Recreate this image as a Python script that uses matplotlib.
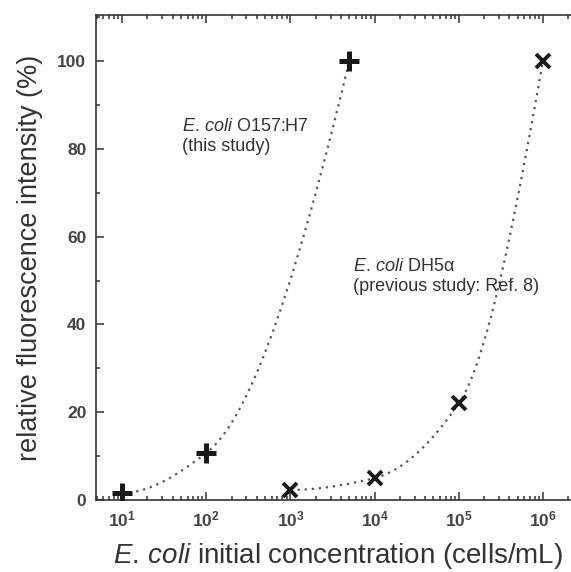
import numpy as np
import matplotlib
matplotlib.use("Agg")
import matplotlib.pyplot as plt
from matplotlib.ticker import LogLocator, MultipleLocator, NullFormatter

plt.rcParams['font.family'] = ['Liberation Sans', 'DejaVu Sans']
plt.rcParams['mathtext.fontset'] = 'custom'
plt.rcParams['mathtext.rm'] = 'Liberation Sans'
plt.rcParams['mathtext.it'] = 'Liberation Sans:italic'
plt.rcParams['mathtext.bf'] = 'Liberation Sans:bold'

# E. coli O157:H7 (this study)
o157_conc = [1e1, 1e2, 5e3]
o157_int = [1.6, 10.7, 100]

# E. coli DH5a (previous study)
dh5_conc = [1e3, 1e4, 1e5, 1e6]
dh5_int = [2.3, 5.0, 22, 100]

text_col = '#333333'
mark_col = '#1a1a1a'


def pchip_curve(conc, vals, n=300):
    # monotone cubic through the points, in log10(x)
    u = np.log10(conc)
    y = np.asarray(vals, float)
    h = np.diff(u)
    d = np.diff(y) / h
    m = np.zeros_like(y)
    for i in range(1, len(y) - 1):
        if d[i - 1] * d[i] > 0:
            w1 = 2 * h[i] + h[i - 1]
            w2 = h[i] + 2 * h[i - 1]
            m[i] = (w1 + w2) / (w1 / d[i - 1] + w2 / d[i])
    m0 = ((2 * h[0] + h[1]) * d[0] - h[0] * d[1]) / (h[0] + h[1])
    m[0] = m0 if m0 * d[0] > 0 else 0
    mn = ((2 * h[-1] + h[-2]) * d[-1] - h[-1] * d[-2]) / (h[-1] + h[-2])
    m[-1] = mn if mn * d[-1] > 0 else 0
    uu = np.linspace(u[0], u[-1], n)
    idx = np.clip(np.searchsorted(u, uu) - 1, 0, len(h) - 1)
    t = (uu - u[idx]) / h[idx]
    h00 = 2 * t**3 - 3 * t**2 + 1
    h10 = t**3 - 2 * t**2 + t
    h01 = -2 * t**3 + 3 * t**2
    h11 = t**3 - t**2
    yy = h00 * y[idx] + h10 * h[idx] * m[idx] + h01 * y[idx + 1] + h11 * h[idx] * m[idx + 1]
    return 10 ** uu, yy


fig = plt.figure(figsize=(5.71, 5.72), dpi=100)
ax = fig.add_axes([96 / 571, 72 / 572, 484 / 571, 485 / 572])

dot = (0, (1, 2.2))
cx, cy = pchip_curve(o157_conc, o157_int)
ax.plot(cx, cy, color='#555555', lw=1.6, ls=dot, zorder=1)
cx, cy = pchip_curve(dh5_conc, dh5_int)
ax.plot(cx, cy, color='#555555', lw=1.6, ls=dot, zorder=1)

ax.plot(o157_conc, o157_int, ls='none', marker='+', ms=14, mew=3.6, color=mark_col, zorder=3)
ax.plot(dh5_conc, dh5_int, ls='none', marker='x', ms=9.5, mew=2.8, color=mark_col, zorder=3)

ax.set_xscale('log')
ax.set_xlim(10 ** 0.691, 10 ** 6.44)
ax.set_ylim(0, 110.5)

ax.xaxis.set_major_locator(LogLocator(base=10, numticks=12))
ax.xaxis.set_minor_locator(LogLocator(base=10, subs=np.arange(2, 10), numticks=12))
ax.xaxis.set_minor_formatter(NullFormatter())
ax.yaxis.set_major_locator(MultipleLocator(20))
ax.yaxis.set_minor_locator(MultipleLocator(10))

ax.tick_params(which='both', direction='in', top=True, right=False, color=text_col, width=1.1)
ax.tick_params(which='major', length=5.5)
ax.tick_params(which='minor', length=3)
ax.tick_params(axis='both', which='major', labelsize=12.5, labelcolor='#444444', pad=7)
for lab in ax.get_xticklabels() + ax.get_yticklabels():
    lab.set_fontweight('bold')

for s in ax.spines.values():
    s.set_linewidth(1.2)
    s.set_color(text_col)
ax.spines['right'].set_visible(False)

ax.set_ylabel('relative fluorescence intensity (%)', fontsize=19.5, color=text_col, labelpad=10)
ax.set_xlabel(r'$\mathit{E.\,coli}$ initial concentration (cells/mL)', fontsize=20,
              color=text_col, labelpad=8)

ax.text(51.6, 82.8, '$\\mathit{E.\\,coli}$ O157:H7\n(this study)', fontsize=13,
        color=text_col, ha='left', va='center', linespacing=1.2)
ax.text(5530, 50.9, '$\\mathit{E.\\,coli}$ DH5α\n(previous study: Ref. 8)', fontsize=13,
        color=text_col, ha='left', va='center', linespacing=1.2)

plt.savefig('out.png', dpi=100)
